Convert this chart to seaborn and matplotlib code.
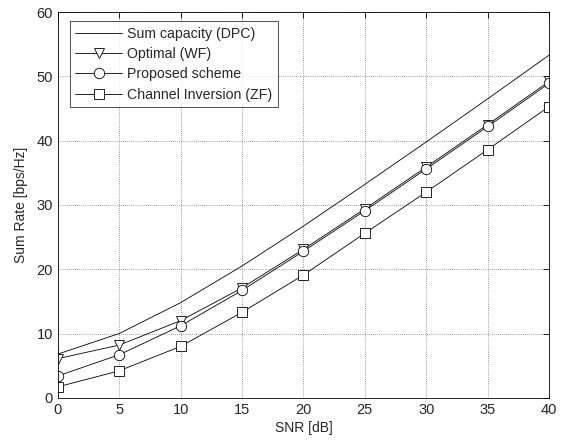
import matplotlib
matplotlib.use("Agg")
import matplotlib.pyplot as plt
import seaborn as sns
import pandas as pd

snr_db = [0, 5, 10, 15, 20, 25, 30, 35, 40]
sum_capacity = [6.8, 10.0, 14.8, 20.5, 26.7, 33.2, 39.8, 46.5, 53.3]
optimal_wf = [6.1, 8.2, 12.0, 17.1, 23.1, 29.4, 35.9, 42.5, 49.2]
proposed = [3.4, 6.7, 11.2, 16.7, 22.8, 29.1, 35.6, 42.2, 48.9]
channel_inv = [1.7, 4.2, 8.0, 13.3, 19.1, 25.6, 32.0, 38.6, 45.3]

sns.set_style("white")
plt.rcParams['font.family'] = ['Liberation Sans', 'DejaVu Sans']

fig = plt.figure(figsize=(5.72, 4.45), dpi=100)
ax = fig.add_axes([0.101, 0.106, 0.859, 0.867])

series = [
    ("Sum capacity (DPC)", sum_capacity, None),
    ("Optimal (WF)", optimal_wf, "v"),
    ("Proposed scheme", proposed, "o"),
    ("Channel Inversion (ZF)", channel_inv, "s"),
]
for name, vals, mk in series:
    df = pd.DataFrame({"snr": snr_db, "rate": vals})
    sns.lineplot(data=df, x="snr", y="rate", ax=ax, color="black", linewidth=0.6,
                 marker=mk, markersize=7.5, markerfacecolor="white",
                 markeredgecolor="black", markeredgewidth=0.6, label=name)

ax.set_xlim(0, 40)
ax.set_ylim(0, 60)
ax.set_xticks(range(0, 41, 5))
ax.set_yticks(range(0, 61, 10))
ax.grid(True, color="#444444", linestyle=(0, (1, 2)), linewidth=0.5)
ax.tick_params(direction="in", top=True, right=True, length=4, labelsize=10.5,
               width=0.6, color="black")
for s in ax.spines.values():
    s.set_color("black")
    s.set_linewidth(0.6)
ax.set_xlabel("SNR [dB]", fontsize=10, labelpad=3)
ax.set_ylabel("Sum Rate [bps/Hz]", fontsize=10, labelpad=6)

leg = ax.legend(loc="upper left", bbox_to_anchor=(0.024, 0.977), borderaxespad=0,
                fontsize=10.2, frameon=True, fancybox=False, handlelength=3.3,
                borderpad=0.4, labelspacing=0.45, handletextpad=0.35)
leg.get_frame().set_edgecolor("black")
leg.get_frame().set_linewidth(0.6)

fig.savefig("out.png", dpi=100)
